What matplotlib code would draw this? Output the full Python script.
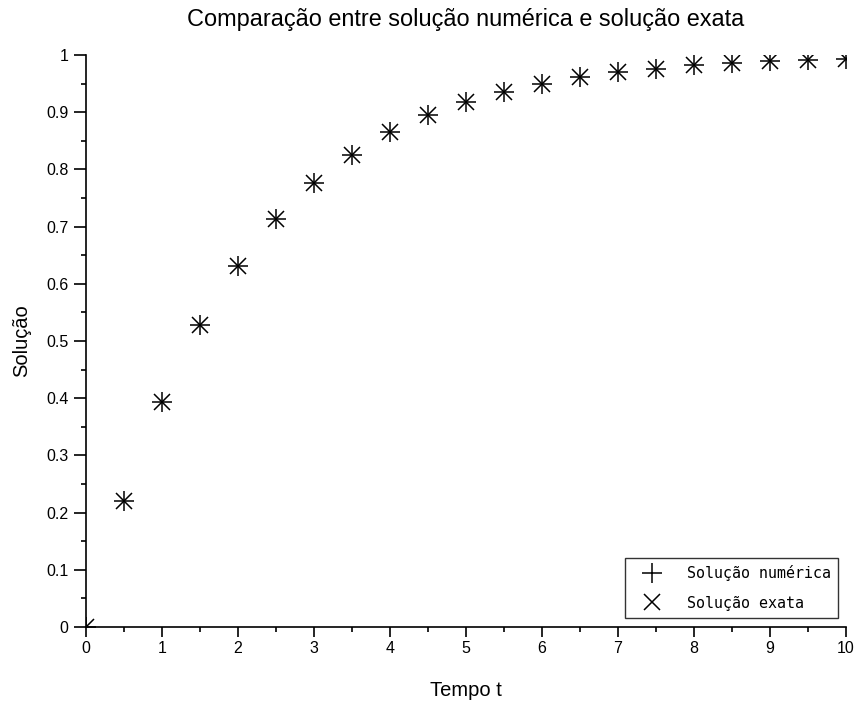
import matplotlib
matplotlib.use("Agg")
import matplotlib.pyplot as plt
from matplotlib.ticker import MultipleLocator

# time samples and solution values (numerical and exact)
t = [0, 0.5, 1, 1.5, 2, 2.5, 3, 3.5, 4, 4.5, 5, 5.5, 6, 6.5, 7, 7.5, 8, 8.5, 9, 9.5, 10]
y_num = [0, 0.221, 0.393, 0.528, 0.632, 0.713, 0.777, 0.826, 0.865, 0.895, 0.918,
         0.936, 0.950, 0.961, 0.970, 0.976, 0.982, 0.986, 0.989, 0.991, 0.993]
y_exata = [0, 0.221, 0.393, 0.528, 0.632, 0.713, 0.777, 0.826, 0.865, 0.895, 0.918,
           0.936, 0.950, 0.961, 0.970, 0.976, 0.982, 0.986, 0.989, 0.991, 0.993]
y_ticks = [0, 0.1, 0.2, 0.3, 0.4, 0.5, 0.6, 0.7, 0.8, 0.9, 1]
y_ticklabels = ['0', '0.1', '0.2', '0.3', '0.4', '0.5', '0.6', '0.7', '0.8', '0.9', '1']

plt.rcParams['font.family'] = ['Liberation Sans', 'DejaVu Sans']

fig = plt.figure(figsize=(8.59, 7.02), dpi=100)
ax = fig.add_axes([0.1001, 0.1068, 0.8848, 0.8148])

ax.plot(t, y_num, linestyle='none', marker='+', markersize=14, markeredgewidth=1.1,
        color='black', label='Solução numérica')
ax.plot(t, y_exata, linestyle='none', marker='x', markersize=11, markeredgewidth=1.1,
        color='black', label='Solução exata')

ax.set_xlim(0, 10)
ax.set_ylim(0, 1)
ax.xaxis.set_major_locator(MultipleLocator(1))
ax.xaxis.set_minor_locator(MultipleLocator(0.5))
ax.set_yticks(y_ticks)
ax.set_yticklabels(y_ticklabels)
ax.yaxis.set_minor_locator(MultipleLocator(0.05))

for side in ('top', 'right'):
    ax.spines[side].set_visible(False)
for side in ('left', 'bottom'):
    ax.spines[side].set_linewidth(1.2)

ax.tick_params(which='major', width=1.2, direction='out', labelsize=11.5)
ax.tick_params(axis='x', which='major', length=7, pad=3)
ax.tick_params(axis='y', which='major', length=8.5, pad=4)
ax.tick_params(which='minor', length=3.5, width=1.2, direction='out')

ax.set_xlabel('Tempo t', fontsize=14.5, labelpad=18)
ax.set_ylabel('Solução', fontsize=14.5, labelpad=11)
ax.set_title('Comparação entre solução numérica e solução exata', fontsize=16.9, pad=21)

leg = ax.legend(loc='lower right', bbox_to_anchor=(0.9895, 0.0157), borderaxespad=0,
                prop={'family': 'DejaVu Sans Mono', 'size': 10.8},
                frameon=True, fancybox=False, edgecolor='black', borderpad=0.5,
                handlelength=2.6, handletextpad=1.0, labelspacing=0.95)
leg.get_frame().set_linewidth(1.0)

fig.savefig('out.png', dpi=100)
